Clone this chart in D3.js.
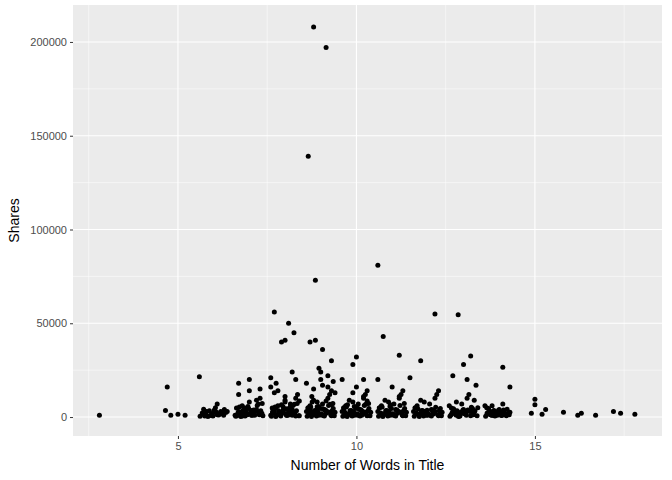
<!DOCTYPE html><html><head><script src="https://cdn.jsdelivr.net/npm/d3@7"></script>
<style>body{margin:0;background:#fff}text{font-family:Arial,"Liberation Sans",sans-serif}</style></head><body><svg id="c" width="672" height="480"></svg><script>
const wordsInTitle=[2.8,4.7,4.65,4.8,5.0,5.2,5.6,8.8,9.15,8.65,8.85,10.6,7.7,8.1,8.25,8.0,7.9,8.7,8.85,9.05,10.75,12.2,12.85,11.2,13.2,13.0,12.7,14.1,11.8,10.0,9.9,9.3,6.7,7.0,7.3,7.6,10.2,11.5,6.1,6.2,15.0,15.0,15.3,15.8,16.2,16.3,16.7,17.2,17.4,17.8,14.9,15.2,14.3,13.8,
5.7,5.8,5.9,6.0,6.1,6.3,5.75,5.95,6.25,6.05,
6.6,6.7,6.8,6.9,7.0,7.1,7.2,7.3,6.65,6.75,6.85,6.95,7.05,7.15,7.25,7.35,6.7,6.9,7.1,7.3,6.8,7.0,7.2,
7.6,7.7,7.8,7.9,8.0,8.1,8.2,8.3,8.4,7.65,7.75,7.85,7.95,8.05,8.15,8.25,8.35,7.7,7.9,8.1,8.3,7.8,8.0,8.2,7.6,7.75,8.0,8.3,7.9,8.15,8.4,7.7,7.95,8.2,
8.6,8.7,8.8,8.9,9.0,9.1,9.2,9.3,9.4,8.65,8.75,8.85,8.95,9.05,9.15,9.25,9.35,8.7,8.9,9.1,9.3,8.8,9.0,9.2,8.6,8.75,9.0,9.3,8.9,9.15,9.4,8.7,8.95,9.2,8.8,9.05,9.35,9.1,
9.6,9.7,9.8,9.9,10.0,10.1,10.2,10.3,10.4,9.65,9.75,9.85,9.95,10.05,10.15,10.25,10.35,9.7,9.9,10.1,10.3,9.8,10.0,10.2,9.6,9.75,10.0,10.3,9.9,10.15,
10.6,10.7,10.8,10.9,11.0,11.1,11.2,11.3,11.4,10.65,10.75,10.85,10.95,11.05,11.15,11.25,11.35,10.7,10.9,11.1,11.3,10.8,11.0,11.2,10.6,10.95,11.3,
11.6,11.7,11.8,11.9,12.0,12.1,12.2,12.3,12.4,11.65,11.75,11.85,11.95,12.05,12.15,12.25,12.35,11.7,11.9,12.1,12.3,11.8,12.0,12.2,
12.6,12.7,12.8,12.9,13.0,13.1,13.2,13.3,13.4,12.65,12.75,12.85,12.95,13.05,13.15,13.25,13.35,12.7,12.9,13.1,13.3,12.8,13.0,
13.6,13.7,13.8,13.9,14.0,14.1,14.2,14.3,13.65,13.75,13.85,13.95,14.05,14.15,14.25,13.7,13.9,14.1,14.3,14.0];
const shares=[1000,16000,3500,1000,1500,1000,21500,208000,197000,139000,73000,81000,56000,50000,45000,41000,40000,40000,41000,36000,43000,55000,54500,33000,32500,28000,22000,26500,30000,32000,28000,30000,18000,20000,15000,21000,20000,21000,7000,3000,9500,6500,4000,2500,1000,2000,1000,3000,2000,1500,2000,1500,16000,6000,
1500,3000,800,2500,1200,4000,600,1800,2200,5000,
1000,3000,6000,2000,8000,1500,4000,10000,700,2500,5000,1200,3500,900,7000,2000,12000,4500,1800,3000,600,14000,9000,
1000,3000,6000,2000,8000,1500,4000,10000,700,2500,5000,1200,3500,900,7000,2000,12000,4500,1800,3000,600,14000,9000,24000,16000,18000,11000,20000,6500,5500,8500,13000,3800,
1000,3000,6000,2000,8000,1500,4000,10000,700,2500,5000,1200,3500,900,7000,2000,12000,4500,1800,3000,600,14000,9000,24000,16000,18000,11000,20000,6500,5500,8500,13000,3800,26000,22000,15000,17000,19000,
1000,3000,6000,2000,8000,1500,4000,10000,700,2500,5000,1200,3500,900,7000,2000,12000,4500,1800,3000,600,14000,9000,16000,11000,20000,6500,5500,8500,13000,
1000,3000,6000,2000,8000,1500,4000,10000,700,2500,5000,1200,3500,900,7000,2000,12000,4500,1800,3000,600,14000,9000,16000,11000,20000,6500,
1000,3000,6000,2000,8000,1500,4000,10000,700,2500,5000,1200,3500,900,7000,2000,12000,4500,1800,3000,600,14000,9000,
1000,3000,6000,2000,8000,1500,4000,10000,700,2500,5000,1200,3500,900,7000,2000,12000,4500,17000,3000,600,20000,9000,
1000,3000,6000,2000,800,1500,4000,7000,700,2500,5000,1200,3500,900,2200,2000,1500,4500,1800,3000];
// dense low band of the jittered cloud
const bandWords=[5.62,5.68,5.78,5.88,5.98,6.08,6.18,6.28,6.38,5.72,5.84,6.02,6.14,6.34,
6.62,6.68,6.72,6.78,6.82,6.88,6.92,6.98,7.02,7.08,7.12,7.18,7.22,7.28,7.32,7.38,6.64,6.76,6.86,6.96,7.06,7.16,7.26,7.36,
7.62,7.68,7.72,7.78,7.82,7.88,7.92,7.98,8.02,8.08,8.12,8.18,8.22,8.28,8.32,8.38,7.64,7.74,7.84,7.94,8.04,8.14,8.24,8.34,7.66,7.86,8.06,8.26,
8.62,8.68,8.72,8.78,8.82,8.88,8.92,8.98,9.02,9.08,9.12,9.18,9.22,9.28,9.32,9.38,8.64,8.74,8.84,8.94,9.04,9.14,9.24,9.34,8.66,8.86,9.06,9.26,8.76,8.96,9.16,9.36,
9.62,9.68,9.72,9.78,9.82,9.88,9.92,9.98,10.02,10.08,10.12,10.18,10.22,10.28,10.32,10.38,9.64,9.74,9.84,9.94,10.04,10.14,10.24,10.34,9.66,9.86,10.06,10.26,
10.62,10.68,10.72,10.78,10.82,10.88,10.92,10.98,11.02,11.08,11.12,11.18,11.22,11.28,11.32,11.38,10.64,10.74,10.84,10.94,11.04,11.14,11.24,11.34,
11.62,11.68,11.72,11.78,11.82,11.88,11.92,11.98,12.02,12.08,12.12,12.18,12.22,12.28,12.32,12.38,11.64,11.76,11.96,12.16,12.36,
12.62,12.68,12.72,12.78,12.82,12.88,12.92,12.98,13.02,13.08,13.12,13.18,13.22,13.28,13.32,13.38,12.66,12.86,13.06,13.26,
13.62,13.68,13.72,13.78,13.82,13.88,13.92,13.98,14.02,14.08,14.12,14.18,14.22,14.28,13.66,13.86,14.06,14.26];
const bandShares=[400,2200,1400,3400,600,2600,1800,900,2900,4200,300,3800,1100,2400,
400,2200,5400,1400,3400,600,2600,4600,1800,900,3800,2900,6200,1200,3300,700,4800,300,2000,5600,1000,3600,2500,7200,
400,2200,5400,1400,3400,600,2600,4600,1800,900,3800,2900,6200,1200,3300,700,4800,300,2000,5600,1000,3600,2500,7200,3000,1600,4400,6800,
400,2200,5400,1400,3400,600,2600,4600,1800,900,3800,2900,6200,1200,3300,700,4800,300,2000,5600,1000,3600,2500,7200,3000,1600,4400,6800,8000,5000,2400,1200,
400,2200,5400,1400,3400,600,2600,4600,1800,900,3800,2900,6200,1200,3300,700,4800,300,2000,5600,1000,3600,2500,7200,3000,1600,4400,6800,
400,2200,5400,1400,3400,600,2600,4600,1800,900,3800,2900,6200,1200,3300,700,4800,300,2000,5600,1000,3600,2500,7200,
400,2200,4400,1400,3400,600,2600,3600,1800,900,3800,2900,5200,1200,3300,700,4800,300,2000,1600,1000,
400,2200,4400,1400,3400,600,2600,3600,1800,900,3800,2900,5200,1200,3300,700,4800,300,2000,1600,
400,2200,3400,1400,2900,600,2600,3600,1800,900,3800,1300,4200,1200,2000,3200,800,2400];
const xTicks=[5,10,15], yTicks=[0,50000,100000,150000,200000];
const svg=d3.select("#c"), L=73,R=662,T=5,B=436;
const x=d3.scaleLinear().domain([2.06,18.56]).range([L,R]);
const y=d3.scaleLinear().domain([-10100,219700]).range([B,T]);
svg.append("rect").attr("x",L).attr("y",T).attr("width",R-L).attr("height",B-T).attr("fill","#ebebeb");
const g=svg.append("g");
[2.5,7.5,12.5,17.5].forEach(v=>g.append("line").attr("x1",x(v)).attr("x2",x(v)).attr("y1",T).attr("y2",B).attr("stroke","#fff").attr("stroke-width",0.5));
[25000,75000,125000,175000].forEach(v=>g.append("line").attr("y1",y(v)).attr("y2",y(v)).attr("x1",L).attr("x2",R).attr("stroke","#fff").attr("stroke-width",0.5));
xTicks.forEach(v=>g.append("line").attr("x1",x(v)).attr("x2",x(v)).attr("y1",T).attr("y2",B).attr("stroke","#fff").attr("stroke-width",1.1));
yTicks.forEach(v=>g.append("line").attr("y1",y(v)).attr("y2",y(v)).attr("x1",L).attr("x2",R).attr("stroke","#fff").attr("stroke-width",1.1));
const xa=svg.append("g").attr("transform",`translate(0,${B})`).call(d3.axisBottom(x).tickValues(xTicks).tickSize(3).tickPadding(3));
const ya=svg.append("g").attr("transform",`translate(${L},0)`).call(d3.axisLeft(y).tickValues(yTicks).tickFormat(d3.format("d")).tickSize(3).tickPadding(3));
[xa,ya].forEach(a=>{a.select(".domain").remove();a.selectAll("line").attr("stroke","#333");a.selectAll("text").attr("fill","#4d4d4d").style("font-size","11px");});
const pts=shares.map((s,i)=>[wordsInTitle[i],s]).concat(bandShares.map((s,i)=>[bandWords[i],s]));
svg.append("g").selectAll("circle").data(pts).join("circle").attr("cx",d=>x(d[0])).attr("cy",d=>y(d[1])).attr("r",2.5).attr("fill","#000");
svg.append("text").attr("x",(L+R)/2).attr("y",470).attr("text-anchor","middle").style("font-size","14px").text("Number of Words in Title");
svg.append("text").attr("transform",`translate(19,${(T+B)/2}) rotate(-90)`).attr("text-anchor","middle").style("font-size","14px").text("Shares");
</script></body></html>
